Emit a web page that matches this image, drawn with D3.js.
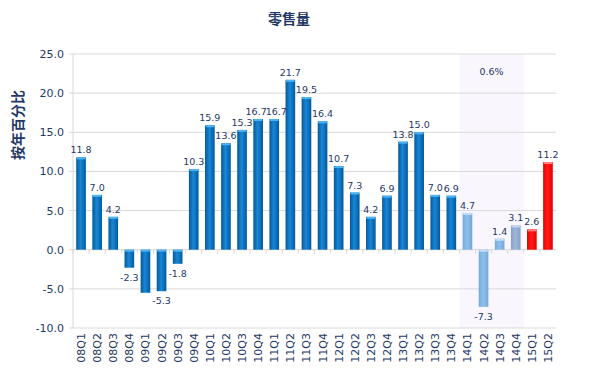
<!DOCTYPE html>
<html>
<head>
<meta charset="utf-8">
<script src="https://cdn.jsdelivr.net/npm/d3@7"></script>
<style>
  body { margin: 0; background: #fff; }
  svg { display: block; }
  text { font-family: "DejaVu Sans", Verdana, sans-serif; fill: #1f3864; }
  .cjk { font-family: "Noto Sans CJK SC", sans-serif; font-weight: bold; }
</style>
</head>
<body>
<svg id="chart" width="589" height="387"></svg>
<script>
// quarters
var quarters = ["08Q1","08Q2","08Q3","08Q4","09Q1","09Q2","09Q3","09Q4",
  "10Q1","10Q2","10Q3","10Q4","11Q1","11Q2","11Q3","11Q4",
  "12Q1","12Q2","12Q3","12Q4","13Q1","13Q2","13Q3","13Q4",
  "14Q1","14Q2","14Q3","14Q4","15Q1","15Q2"];

// year-on-year %
var values = [11.8, 7.0, 4.2, -2.3, -5.5, -5.3, -1.8, 10.3,
  15.9, 13.6, 15.3, 16.7, 16.7, 21.7, 19.5, 16.4,
  10.7, 7.3, 4.2, 6.9, 13.8, 15.0, 7.0, 6.9,
  4.7, -7.3, 1.4, 3.1, 2.6, 11.2];

// colour group per bar
var groups = ["a","a","a","a","a","a","a","a",
  "a","a","a","a","a","a","a","a",
  "a","a","a","a","a","a","a","a",
  "b","b","b","c","d","d"];

var hiddenLabels = ["09Q1"];
var yTicks = [-10, -5, 0, 5, 10, 15, 20, 25];
var shaded = ["14Q1", "14Q4"];
var shadedNote = "0.6%";

var svg = d3.select("#chart");
var margin = {left: 73, right: 33, top: 54, bottom: 59};
var W = 589, H = 387;
var fmt = function(v) { return v.toFixed(1); };

var x = d3.scaleBand().domain(quarters)
  .range([margin.left, W - margin.right]).paddingInner(0.4).paddingOuter(0.2);
var y = d3.scaleLinear().domain([-10, 25]).range([H - margin.bottom, margin.top]);

var colors = {
  a: ["#005a9e", "#1a86d6", "#4db3f2"],
  b: ["#72a9db", "#8ec0ea", "#bfe0fa"],
  c: ["#849fc8", "#a0b7d9", "#c6d6ee"],
  d: ["#e60000", "#ff1a1a", "#ff8080"]
};

var defs = svg.append("defs");
Object.keys(colors).forEach(function(k) {
  var g = defs.append("linearGradient").attr("id", "grad-" + k)
    .attr("x1", 0).attr("x2", 1).attr("y1", 0).attr("y2", 0);
  g.append("stop").attr("offset", "0%").attr("stop-color", colors[k][0]);
  g.append("stop").attr("offset", "45%").attr("stop-color", colors[k][1]);
  g.append("stop").attr("offset", "100%").attr("stop-color", colors[k][0]);
});

// shaded band
var step = x.step();
var sx0 = x(shaded[0]) - step * x.paddingInner() / 2;
var sx1 = x(shaded[1]) + x.bandwidth() + step * x.paddingInner() / 2;
svg.append("rect")
  .attr("x", sx0).attr("y", y(25))
  .attr("width", sx1 - sx0).attr("height", y(-10) - y(25))
  .attr("fill", "#f9f7fd");
svg.append("text")
  .attr("x", (sx0 + sx1) / 2).attr("y", 75)
  .attr("text-anchor", "middle").attr("font-size", 9.5)
  .text(shadedNote);

// grid
svg.append("g").selectAll("line").data(yTicks).enter().append("line")
  .attr("x1", margin.left - 4).attr("x2", W - margin.right)
  .attr("y1", function(d) { return y(d); }).attr("y2", function(d) { return y(d); })
  .attr("stroke", "#d9d9d9").attr("stroke-width", 1);

svg.append("line")
  .attr("x1", margin.left).attr("x2", margin.left)
  .attr("y1", y(25)).attr("y2", y(-10))
  .attr("stroke", "#d9d9d9");

// y axis labels
svg.append("g").selectAll("text").data(yTicks).enter().append("text")
  .attr("x", margin.left - 9).attr("y", function(d) { return y(d) + 4; })
  .attr("text-anchor", "end").attr("font-size", 11)
  .text(fmt);

// x tick marks
svg.append("g").selectAll("line").data(quarters).enter().append("line")
  .attr("x1", function(d) { return x(d) - step * x.paddingInner() / 2; })
  .attr("x2", function(d) { return x(d) - step * x.paddingInner() / 2; })
  .attr("y1", y(0)).attr("y2", y(0) + 4)
  .attr("stroke", "#d9d9d9");

// bars
var bars = svg.append("g").selectAll("g").data(quarters).enter().append("g");
bars.append("rect")
  .attr("x", function(d) { return x(d); })
  .attr("y", function(d, i) { return y(Math.max(0, values[i])); })
  .attr("width", x.bandwidth())
  .attr("height", function(d, i) { return Math.abs(y(values[i]) - y(0)); })
  .attr("fill", function(d, i) { return "url(#grad-" + groups[i] + ")"; });
bars.append("rect")
  .attr("x", function(d) { return x(d) + 0.5; })
  .attr("y", function(d, i) { return y(Math.max(0, values[i])); })
  .attr("width", x.bandwidth() - 1)
  .attr("height", 2)
  .attr("fill", function(d, i) { return colors[groups[i]][2]; });

// value labels (the two equal 16.7 labels are nudged apart a bit)
var nudge = {"10Q4": -2, "11Q1": 2};
svg.append("g").selectAll("text")
  .data(quarters.filter(function(q) { return hiddenLabels.indexOf(q) < 0; }))
  .enter().append("text")
  .attr("x", function(d) { return x(d) + x.bandwidth() / 2 + (nudge[d] || 0); })
  .attr("y", function(d) {
    var v = values[quarters.indexOf(d)];
    return v >= 0 ? y(v) - 4 : y(v) + 13;
  })
  .attr("text-anchor", "middle").attr("font-size", 9.5)
  .text(function(d) { return fmt(values[quarters.indexOf(d)]); });

// x labels
svg.append("g").selectAll("text").data(quarters).enter().append("text")
  .attr("transform", function(d) {
    return "translate(" + (x(d) + x.bandwidth() / 2 + 4) + "," + (y(-10) + 5) + ") rotate(-90)";
  })
  .attr("text-anchor", "end").attr("font-size", 11)
  .text(function(d) { return d; });

// titles
svg.append("text").attr("class", "cjk")
  .attr("x", 289).attr("y", 24).attr("text-anchor", "middle")
  .attr("font-size", 14).text("零售量");
svg.append("text").attr("class", "cjk")
  .attr("transform", "translate(23,125) rotate(-90)")
  .attr("text-anchor", "middle").attr("font-size", 14)
  .text("按年百分比");
</script>
</body>
</html>
